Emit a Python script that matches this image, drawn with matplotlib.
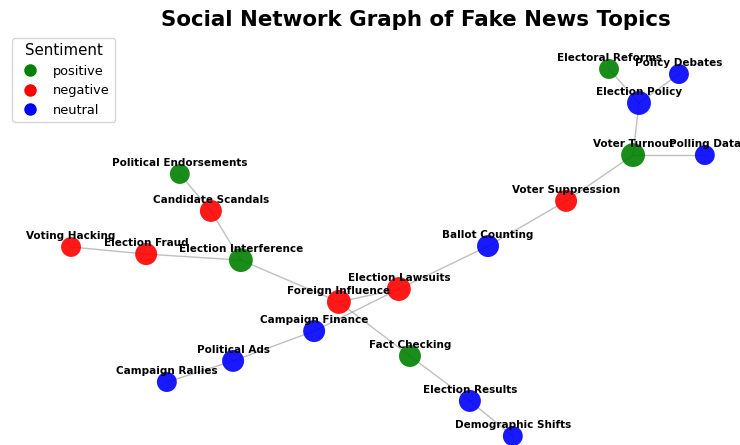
import matplotlib.pyplot as plt
from matplotlib.lines import Line2D
import numpy as np

# ── DATA ─────────────────────────────────────────────────────
topics = ['Political Endorsements', 'Candidate Scandals', 'Voting Hacking', 'Election Fraud',
          'Election Interference', 'Foreign Influence', 'Election Lawsuits', 'Campaign Finance',
          'Political Ads', 'Campaign Rallies', 'Fact Checking', 'Election Results',
          'Demographic Shifts', 'Ballot Counting', 'Voter Suppression', 'Voter Turnout',
          'Polling Data', 'Election Policy', 'Electoral Reforms', 'Policy Debates']
sentiment = ['positive', 'negative', 'negative', 'negative',
             'positive', 'negative', 'negative', 'neutral',
             'neutral', 'neutral', 'positive', 'neutral',
             'neutral', 'neutral', 'negative', 'positive',
             'neutral', 'neutral', 'positive', 'neutral']
# layout coordinates (spring-layout style)
pos_x = [-0.514, -0.430, -0.808, -0.605, -0.349, -0.084, 0.078, -0.151, -0.370, -0.549,
         0.108, 0.270, 0.386, 0.319, 0.530, 0.711, 0.905, 0.727, 0.646, 0.835]
pos_y = [0.218, 0.052, -0.110, -0.142, -0.169, -0.357, -0.299, -0.488, -0.622, -0.717,
         -0.600, -0.802, -0.960, -0.106, 0.097, 0.303, 0.303, 0.537, 0.690, 0.667]
edges = [('Political Endorsements', 'Candidate Scandals'),
         ('Candidate Scandals', 'Election Interference'),
         ('Voting Hacking', 'Election Fraud'),
         ('Election Fraud', 'Election Interference'),
         ('Election Interference', 'Foreign Influence'),
         ('Foreign Influence', 'Election Lawsuits'),
         ('Foreign Influence', 'Fact Checking'),
         ('Campaign Finance', 'Election Lawsuits'),
         ('Political Ads', 'Campaign Finance'),
         ('Campaign Rallies', 'Political Ads'),
         ('Fact Checking', 'Election Results'),
         ('Election Results', 'Demographic Shifts'),
         ('Election Lawsuits', 'Ballot Counting'),
         ('Ballot Counting', 'Voter Suppression'),
         ('Voter Suppression', 'Voter Turnout'),
         ('Voter Turnout', 'Polling Data'),
         ('Voter Turnout', 'Election Policy'),
         ('Election Policy', 'Electoral Reforms'),
         ('Election Policy', 'Policy Debates')]

# ── STYLE ────────────────────────────────────────────────────
COLORS = {'positive': 'green', 'negative': 'red', 'neutral': 'blue'}

idx = {t: i for i, t in enumerate(topics)}
degree = np.zeros(len(topics))
for a, b in edges:
    degree[idx[a]] += 1
    degree[idx[b]] += 1
sizes = 160 + 45 * degree

fig = plt.figure(figsize=(7.4, 4.45), dpi=100)
ax = fig.add_axes([0, 0, 1, 1])
ax.set_xlim(-1, 1)
ax.set_ylim(-1, 1)
ax.axis('off')

# edges
for a, b in edges:
    ax.plot([pos_x[idx[a]], pos_x[idx[b]]], [pos_y[idx[a]], pos_y[idx[b]]],
            color='gray', alpha=0.5, linewidth=1, zorder=1)

# nodes
ax.scatter(pos_x, pos_y, s=sizes, c=[COLORS[s] for s in sentiment],
           alpha=0.9, linewidths=0, zorder=2)

# labels
for i, t in enumerate(topics):
    ax.annotate(t, (pos_x[i], pos_y[i]), textcoords='offset points', xytext=(0, 8),
                ha='center', va='center', fontsize=7.5, fontweight='bold', zorder=3)

handles = [Line2D([0], [0], marker='o', color='w', markerfacecolor=c, markersize=10, label=k)
           for k, c in COLORS.items()]
fig.legend(handles=handles, title='Sentiment', loc='upper left',
           bbox_to_anchor=(0.0162, 0.9146), borderaxespad=0,
           fontsize=9.3, title_fontsize=10.8)

fig.suptitle('Social Network Graph of Fake News Topics', x=0.562, y=0.978,
             fontsize=15.4, fontweight='bold', va='top')

plt.savefig('out.png', dpi=100)
plt.close()
